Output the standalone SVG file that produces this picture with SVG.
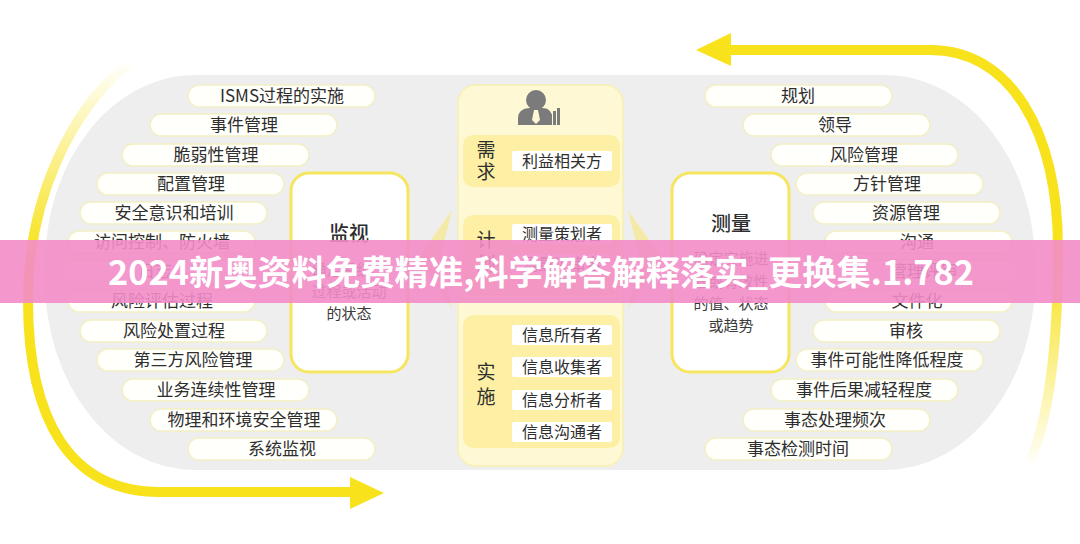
<svg xmlns="http://www.w3.org/2000/svg" width="1080" height="544" viewBox="0 0 1080 544">
<defs>
<linearGradient id="gL" gradientUnits="userSpaceOnUse" x1="0" y1="60" x2="0" y2="492">
<stop offset="0" stop-color="#f7e21c" stop-opacity="0"/>
<stop offset="0.45" stop-color="#f7e21c" stop-opacity="1"/>
<stop offset="1" stop-color="#f7e21c" stop-opacity="1"/>
</linearGradient>
<linearGradient id="gR" gradientUnits="userSpaceOnUse" x1="0" y1="50" x2="0" y2="470">
<stop offset="0" stop-color="#f7e21c" stop-opacity="1"/>
<stop offset="0.5" stop-color="#f7e21c" stop-opacity="1"/>
<stop offset="1" stop-color="#f7e21c" stop-opacity="0"/>
</linearGradient>
<style>
text{font-family:"Noto Sans CJK SC","Noto Sans",sans-serif;fill:#2e2e2e}
.pill rect{fill:#fffffc;stroke:#f3efc4;stroke-width:1.5}
.pill text{font-size:17px;text-anchor:middle}
.box{fill:#ffffff;stroke:#f6e55e;stroke-width:3}
.ttl{font-size:20px;text-anchor:middle;font-weight:500}
.desc{font-size:15px;text-anchor:middle;fill:#3a3a3a}
.sec{fill:#fdf0a4}
.lab rect{fill:#ffffff}
.lab text{font-size:16px;text-anchor:middle}
.sch{font-size:19px;text-anchor:middle}
.yar{fill:#f7d80e}
.chev{fill:#f8e870;opacity:0.55}
</style>
</defs>
<rect width="1080" height="544" fill="#ffffff"/>
<rect x="45" y="75" width="990" height="395" rx="150" ry="190" fill="#eeeeee"/>

<g id="connectors">
<path d="M130 62 C70 110 28 200 28 300 C28 420 70 492 160 492 L352 492" fill="none" stroke="url(#gL)" stroke-width="10"/>
<polygon points="350,477 384,493 350,509" fill="#f7e21c"/>
<path d="M728 50 L930 50 C1010 50 1058 130 1058 250 C1058 350 1048 420 1030 462" fill="none" stroke="url(#gR)" stroke-width="10"/>
<polygon points="731,33 696,50 731,66" fill="#f7e21c"/>
<polygon class="chev" points="452,210 418,258 452,308 440,258"/>
<polygon class="chev" points="628,210 662,258 628,308 640,258"/>
<g id="arrow-down-1"><rect class="yar" x="535" y="188" width="10" height="10"/><polygon class="yar" points="529,198 551,198 540,211"/></g>
<g id="arrow-down-2"><rect class="yar" x="535" y="295" width="10" height="7"/><polygon class="yar" points="529,302 551,302 540,313"/></g>
</g>

<g id="left-list" class="pill">
<g id="l1"><rect x="188" y="85" width="187" height="22" rx="11"/><text x="282" y="102">ISMS过程的实施</text></g>
<g id="l2"><rect x="150" y="114" width="187" height="22" rx="11"/><text x="244" y="131">事件管理</text></g>
<g id="l3"><rect x="122" y="144" width="187" height="22" rx="11"/><text x="216" y="161">脆弱性管理</text></g>
<g id="l4"><rect x="97" y="173" width="187" height="22" rx="11"/><text x="191" y="190">配置管理</text></g>
<g id="l5"><rect x="80" y="202" width="187" height="22" rx="11"/><text x="174" y="219">安全意识和培训</text></g>
<g id="l6"><rect x="68" y="231" width="187" height="22" rx="11"/><text x="162" y="248">访问控制、防火墙</text></g>
<g id="l7"><rect x="62" y="260" width="187" height="22" rx="11"/><text x="155" y="277">日志</text></g>
<g id="l8"><rect x="68" y="290" width="187" height="22" rx="11"/><text x="162" y="307">风险评估过程</text></g>
<g id="l9"><rect x="80" y="320" width="187" height="22" rx="11"/><text x="174" y="337">风险处置过程</text></g>
<g id="l10"><rect x="97" y="349" width="187" height="22" rx="11"/><text x="193" y="366">第三方风险管理</text></g>
<g id="l11"><rect x="122" y="379" width="187" height="22" rx="11"/><text x="216" y="396">业务连续性管理</text></g>
<g id="l12"><rect x="150" y="409" width="187" height="22" rx="11"/><text x="244" y="426">物理和环境安全管理</text></g>
<g id="l13"><rect x="188" y="438" width="187" height="22" rx="11"/><text x="282" y="455">系统监视</text></g>
</g>

<g id="right-list" class="pill">
<g id="r1"><rect x="705" y="85" width="187" height="22" rx="11"/><text x="798" y="102">规划</text></g>
<g id="r2"><rect x="743" y="114" width="187" height="22" rx="11"/><text x="835" y="131">领导</text></g>
<g id="r3"><rect x="771" y="144" width="187" height="22" rx="11"/><text x="864" y="161">风险管理</text></g>
<g id="r4"><rect x="796" y="173" width="187" height="22" rx="11"/><text x="887" y="190">方针管理</text></g>
<g id="r5"><rect x="813" y="202" width="187" height="22" rx="11"/><text x="906" y="219">资源管理</text></g>
<g id="r6"><rect x="825" y="231" width="187" height="22" rx="11"/><text x="917" y="248">沟通</text></g>
<g id="r7"><rect x="831" y="260" width="187" height="22" rx="11"/><text x="924" y="277">管理评审</text></g>
<g id="r8"><rect x="825" y="290" width="187" height="22" rx="11"/><text x="917" y="307">文件化</text></g>
<g id="r9"><rect x="813" y="320" width="187" height="22" rx="11"/><text x="906" y="337">审核</text></g>
<g id="r10"><rect x="796" y="349" width="187" height="22" rx="11"/><text x="887" y="366">事件可能性降低程度</text></g>
<g id="r11"><rect x="771" y="379" width="187" height="22" rx="11"/><text x="864" y="396">事件后果减轻程度</text></g>
<g id="r12"><rect x="743" y="409" width="187" height="22" rx="11"/><text x="835" y="426">事态处理频次</text></g>
<g id="r13"><rect x="705" y="438" width="187" height="22" rx="11"/><text x="798" y="455">事态检测时间</text></g>
</g>

<g id="monitor">
<rect class="box" x="291" y="173" width="117" height="199" rx="18"/>
<text class="ttl" x="349" y="241">监视</text>
<text class="desc" x="349" y="275">确定系统、</text>
<text class="desc" x="349" y="297">过程或活动</text>
<text class="desc" x="349" y="319">的状态</text>
</g>

<g id="measure">
<rect class="box" x="672" y="173" width="117" height="199" rx="18"/>
<text class="ttl" x="731" y="231">测量</text>
<text class="desc" x="731" y="264">确定实施进</text>
<text class="desc" x="731" y="287">程或有效性</text>
<text class="desc" x="731" y="309">的值、状态</text>
<text class="desc" x="731" y="331">或趋势</text>
</g>

<g id="center-panel">
<rect x="458" y="85" width="165" height="381" rx="18" fill="#fef9d4" stroke="#f8f0ae" stroke-width="1.5"/>
<g id="icon" fill="#7b7b7b">
<circle cx="536" cy="100" r="10"/>
<path d="M518 125 L518 118 C518 111 524 108 530 108 L542 108 C548 108 552 111 552 118 L552 125 Z"/>
<polygon points="534,110 538,110 540,120 536,124 532,120" fill="#fef9d4"/>
<rect x="545" y="117" width="3" height="8"/>
<rect x="549" y="114" width="3" height="11"/>
<rect x="553" y="111" width="3" height="14"/>
<rect x="557" y="108" width="3" height="17"/>
</g>
<g id="demand">
<rect class="sec" x="463" y="135" width="157" height="52" rx="10"/>
<text class="sch" x="486" y="157">需</text>
<text class="sch" x="486" y="179">求</text>
<g class="lab"><rect x="512" y="151" width="100" height="20" rx="2"/><text x="562" y="167">利益相关方</text></g>
</g>
<g id="plan">
<rect class="sec" x="463" y="215" width="157" height="80" rx="10"/>
<text class="sch" x="486" y="247">计</text>
<text class="sch" x="486" y="271">划</text>
<g class="lab"><rect x="512" y="224" width="100" height="20" rx="2"/><text x="562" y="240">测量策划者</text></g>
<g class="lab"><rect x="512" y="254" width="100" height="20" rx="2"/><text x="562" y="270">测量评审者</text></g>
</g>
<g id="implement">
<rect class="sec" x="463" y="315" width="157" height="133" rx="10"/>
<text class="sch" x="486" y="379">实</text>
<text class="sch" x="486" y="404">施</text>
<g class="lab"><rect x="512" y="325" width="100" height="20" rx="2"/><text x="562" y="341">信息所有者</text></g>
<g class="lab"><rect x="512" y="357" width="100" height="20" rx="2"/><text x="562" y="373">信息收集者</text></g>
<g class="lab"><rect x="512" y="390" width="100" height="20" rx="2"/><text x="562" y="406">信息分析者</text></g>
<g class="lab"><rect x="512" y="422" width="100" height="20" rx="2"/><text x="562" y="438">信息沟通者</text></g>
</g>
</g>

<g id="banner">
<rect x="0" y="240" width="1080" height="63" fill="#f28cc8" opacity="0.9"/>
<text x="541" y="285" text-anchor="middle" font-size="34" font-weight="700" textLength="866" lengthAdjust="spacingAndGlyphs" style="fill:#ffffff">2024新奥资料免费精准,科学解答解释落实_更换集.1.782</text>
</g>
</svg>
